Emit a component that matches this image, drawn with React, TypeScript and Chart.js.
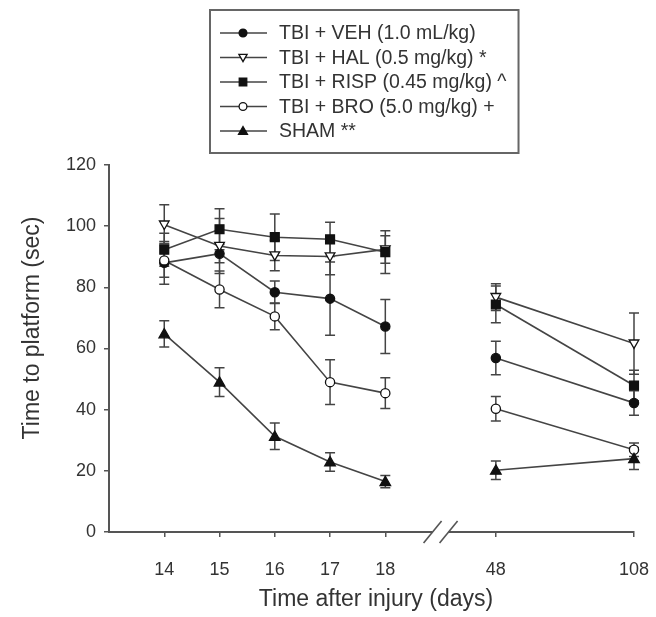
import React, { useEffect, useRef } from "react";
import { Chart, registerables } from "chart.js";

Chart.register(...registerables);

// ---- data ----
const dayLabels = ["14", "15", "16", "17", "18", "48", "108"];
const dayPositions = [0, 1, 2, 3, 4, 6, 8.5];
const breakPosition = 5;

const seriesLabels = [
  "TBI + VEH (1.0 mL/kg)",
  "TBI + HAL (0.5 mg/kg) *",
  "TBI + RISP (0.45 mg/kg) ^",
  "TBI + BRO (5.0 mg/kg) +",
  "SHAM **",
];

const vehMean = [88.0, 91.0, 78.4, 76.3, 67.2, 56.9, 42.2];
const vehErr = [7.0, 3.0, 3.7, 12.0, 8.8, 5.5, 4.0];
const halMean = [100.5, 93.5, 90.4, 90.1, 92.4, 76.8, 61.6];
const halErr = [6.5, 9.0, 5.0, 6.0, 4.5, 4.4, 10.0];
const rispMean = [92.3, 99.0, 96.4, 95.7, 91.5, 74.4, 47.9];
const rispErr = [5.4, 6.7, 7.6, 5.6, 7.0, 6.0, 5.0];
const broMean = [88.8, 79.3, 70.5, 49.0, 45.4, 40.3, 26.9];
const broErr = [5.5, 6.0, 4.4, 7.3, 5.0, 4.0, 2.2];
const shamMean = [64.8, 49.0, 31.3, 22.9, 16.5, 20.2, 24.0];
const shamErr = [4.3, 4.7, 4.3, 3.0, 2.0, 3.0, 3.6];

const yTickValues = [0, 20, 40, 60, 80, 100, 120];

const means = [vehMean, halMean, rispMean, broMean, shamMean];
const errs = [vehErr, halErr, rispErr, broErr, shamErr];

type Marker = { style: "circle" | "rect" | "triangle"; rotation: number; filled: boolean; radius: number };
const markers: Marker[] = [
  { style: "circle", rotation: 0, filled: true, radius: 4.6 },
  { style: "triangle", rotation: 180, filled: false, radius: 4.4 },
  { style: "rect", rotation: 0, filled: true, radius: 5.2 },
  { style: "circle", rotation: 0, filled: false, radius: 4.6 },
  { style: "triangle", rotation: 0, filled: true, radius: 4.8 },
];

const FONT = '"Liberation Sans", Arial, sans-serif';
const LINE = "#444";
const MARK = "#111";
const TEXT = "#333";
const AXIS = "#555";

function drawMarker(ctx: CanvasRenderingContext2D, m: Marker, x: number, y: number, r: number) {
  ctx.save();
  ctx.fillStyle = m.filled ? MARK : "#fff";
  ctx.strokeStyle = MARK;
  ctx.lineWidth = 1.3;
  ctx.beginPath();
  if (m.style === "circle") {
    ctx.arc(x, y, r, 0, Math.PI * 2);
  } else if (m.style === "rect") {
    const s = r * 0.85;
    ctx.rect(x - s, y - s, 2 * s, 2 * s);
  } else {
    const dir = m.rotation === 180 ? -1 : 1;
    const h = r * 1.1;
    ctx.moveTo(x, y - dir * h);
    ctx.lineTo(x + h, y + dir * h * 0.75);
    ctx.lineTo(x - h, y + dir * h * 0.75);
    ctx.closePath();
  }
  ctx.fill();
  ctx.stroke();
  ctx.restore();
}

const errorBarPlugin = {
  id: "errorBars",
  beforeDatasetsDraw(chart: any) {
    const ctx = chart.ctx as CanvasRenderingContext2D;
    const ys = chart.scales.y;
    ctx.save();
    ctx.strokeStyle = LINE;
    ctx.lineWidth = 1.5;
    chart.data.datasets.forEach((_ds: any, di: number) => {
      const meta = chart.getDatasetMeta(di);
      meta.data.forEach((pt: any, i: number) => {
        const m = means[di][i];
        const e = errs[di][i];
        const x = pt.x;
        const yt = ys.getPixelForValue(m + e);
        const yb = ys.getPixelForValue(m - e);
        ctx.beginPath();
        ctx.moveTo(x, yt);
        ctx.lineTo(x, yb);
        ctx.moveTo(x - 5, yt);
        ctx.lineTo(x + 5, yt);
        ctx.moveTo(x - 5, yb);
        ctx.lineTo(x + 5, yb);
        ctx.stroke();
      });
    });
    ctx.restore();
  },
};

const markerPlugin = {
  id: "markers",
  afterDatasetsDraw(chart: any) {
    const ctx = chart.ctx as CanvasRenderingContext2D;
    chart.data.datasets.forEach((_ds: any, di: number) => {
      const meta = chart.getDatasetMeta(di);
      meta.data.forEach((pt: any) => drawMarker(ctx, markers[di], pt.x, pt.y, markers[di].radius));
    });
  },
};

const decorPlugin = {
  id: "decor",
  afterDraw(chart: any) {
    const ctx = chart.ctx as CanvasRenderingContext2D;
    const xs = chart.scales.x;
    const ca = chart.chartArea;
    // axis break
    const bx = xs.getPixelForValue(breakPosition);
    const by = ca.bottom;
    ctx.save();
    ctx.fillStyle = "#fff";
    ctx.fillRect(bx - 8, by - 3, 16, 6);
    ctx.strokeStyle = AXIS;
    ctx.lineWidth = 1.6;
    [-8, 8].forEach((dx) => {
      ctx.beginPath();
      ctx.moveTo(bx + dx - 9, by + 11);
      ctx.lineTo(bx + dx + 9, by - 11);
      ctx.stroke();
    });
    ctx.restore();

    // axis titles
    ctx.save();
    ctx.fillStyle = TEXT;
    ctx.font = `23px ${FONT}`;
    ctx.textAlign = "center";
    ctx.textBaseline = "middle";
    ctx.fillText("Time after injury (days)", 376, 600);
    ctx.translate(33, 328);
    ctx.rotate(-Math.PI / 2);
    ctx.fillText("Time to platform (sec)", 0, 0);
    ctx.restore();

    // legend
    ctx.save();
    ctx.font = `19.5px ${FONT}`;
    const textX = 279;
    let maxW = 0;
    seriesLabels.forEach((l) => (maxW = Math.max(maxW, ctx.measureText(l).width)));
    const left = 210, top = 10, bottom = 153;
    const right = textX + maxW + 12;
    ctx.strokeStyle = "#666";
    ctx.lineWidth = 2;
    ctx.strokeRect(left, top, right - left, bottom - top);
    ctx.fillStyle = TEXT;
    ctx.textAlign = "left";
    ctx.textBaseline = "middle";
    seriesLabels.forEach((l, i) => {
      const y = 33 + i * 24.5;
      ctx.strokeStyle = LINE;
      ctx.lineWidth = 1.5;
      ctx.beginPath();
      ctx.moveTo(220, y);
      ctx.lineTo(267, y);
      ctx.stroke();
      drawMarker(ctx, markers[i], 243, y, markers[i].radius * 0.85);
      ctx.fillStyle = TEXT;
      ctx.fillText(l, textX, y + 1);
    });
    ctx.restore();
  },
};

export default function App() {
  const ref = useRef<HTMLCanvasElement | null>(null);
  useEffect(() => {
    document.body.style.margin = "0";
    const canvas = ref.current;
    if (!canvas) return;
    const datasets = means.map((arr, di) => ({
      label: seriesLabels[di],
      data: dayPositions.map((x, i) => ({ x, y: arr[i] })),
      borderColor: LINE,
      borderWidth: 1.6,
      pointRadius: 0,
      pointHoverRadius: 0,
      fill: false,
      tension: 0,
      segment: {
        borderColor: (c: any) => (c.p0DataIndex === 4 ? "rgba(0,0,0,0)" : LINE),
      },
    }));
    const chart = new Chart(canvas, {
      type: "line",
      data: { datasets },
      options: {
        responsive: false,
        animation: false,
        events: [],
        layout: { padding: { top: 165, right: 22, left: 0, bottom: 0 } },
        plugins: { legend: { display: false }, tooltip: { enabled: false } },
        scales: {
          x: {
            type: "linear",
            min: -1,
            max: 8.5,
            afterBuildTicks: (s: any) => {
              s.ticks = dayPositions.map((v) => ({ value: v }));
            },
            afterFit: (s: any) => {
              s.height = 85;
              s.paddingLeft = 0;
              s.paddingRight = 0;
            },
            ticks: {
              autoSkip: false,
              maxRotation: 0,
              padding: 22,
              color: TEXT,
              font: { family: FONT, size: 18 },
              callback: (_v: any, i: number) => dayLabels[i],
            },
            grid: { display: true, drawOnChartArea: false, drawTicks: true, tickLength: 5, color: AXIS, lineWidth: 1.5 },
            border: { display: true, color: AXIS, width: 2 },
          },
          y: {
            min: 0,
            max: 120,
            afterBuildTicks: (s: any) => {
              s.ticks = yTickValues.map((v) => ({ value: v }));
            },
            afterFit: (s: any) => {
              s.width = 109;
              s.paddingTop = 0;
              s.paddingBottom = 0;
            },
            ticks: {
              padding: 8,
              color: TEXT,
              font: { family: FONT, size: 18 },
            },
            grid: { display: true, drawOnChartArea: false, drawTicks: true, tickLength: 5, color: AXIS, lineWidth: 1.5 },
            border: { display: true, color: AXIS, width: 2 },
          },
        },
      },
      plugins: [errorBarPlugin, markerPlugin, decorPlugin],
    });
    return () => chart.destroy();
  }, []);
  return <canvas ref={ref} width={656} height={617} style={{ display: "block" }} />;
}
